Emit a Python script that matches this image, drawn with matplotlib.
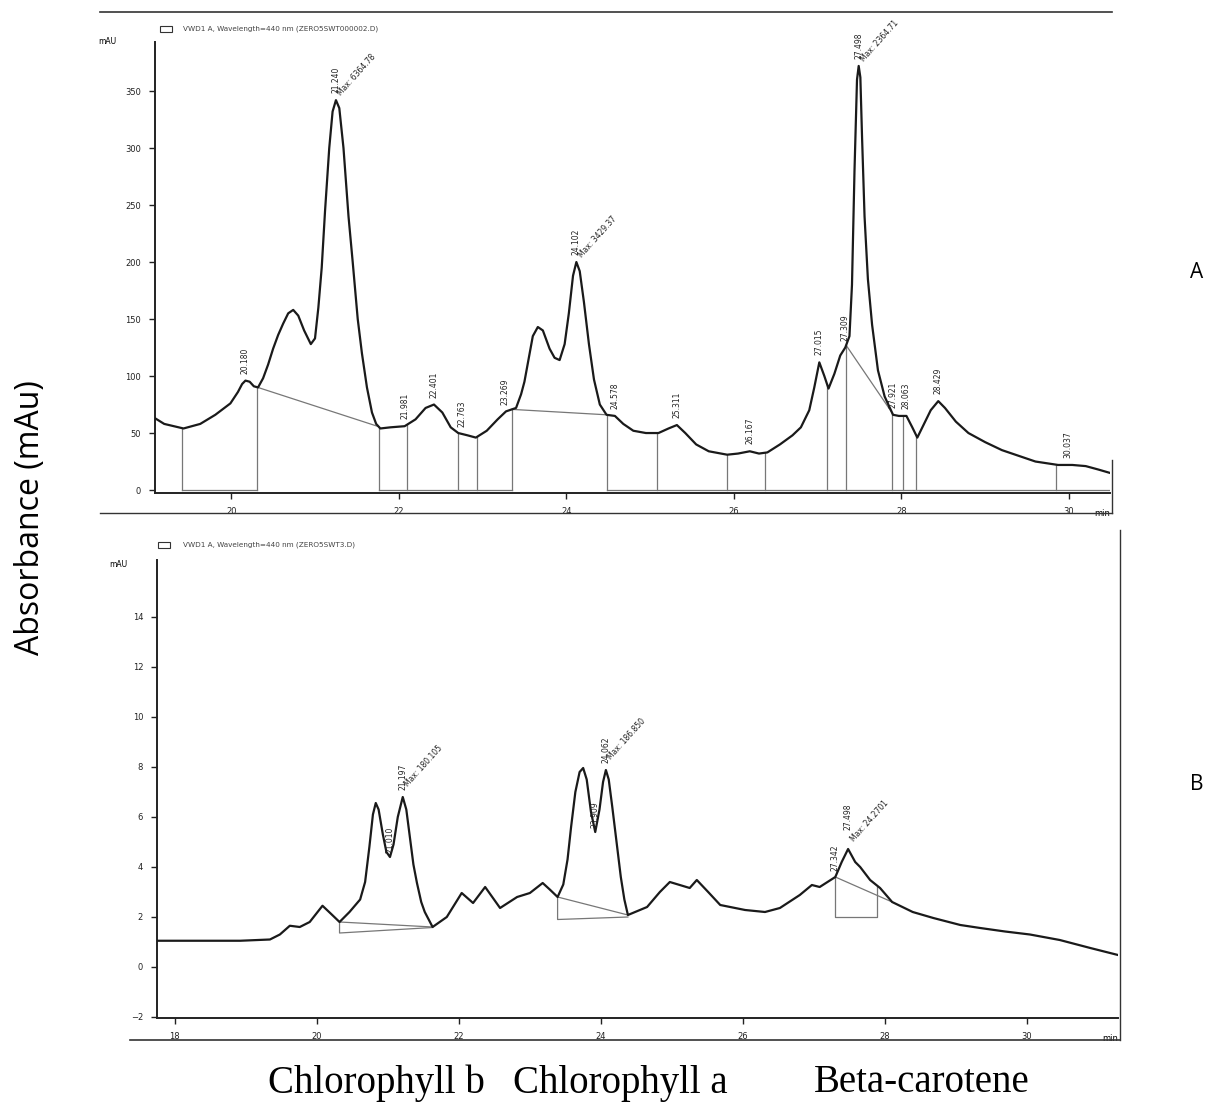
import numpy as np
import matplotlib
matplotlib.use("Agg")
import matplotlib.pyplot as plt

# ---- top chromatogram (sample A), time in min / signal in mAU
t_a = [19.09, 19.20, 19.43, 19.63, 19.81, 19.99, 20.08, 20.13, 20.17, 20.22,
       20.27, 20.32, 20.38, 20.44, 20.50, 20.56, 20.62, 20.68, 20.74, 20.80,
       20.87, 20.95, 21.00, 21.04, 21.08, 21.12, 21.17, 21.21, 21.25, 21.29,
       21.34, 21.40, 21.45, 21.51, 21.56, 21.62, 21.68, 21.73, 21.78, 21.90,
       22.07, 22.20, 22.32, 22.42, 22.52, 22.62, 22.71, 22.82, 22.92, 23.05,
       23.18, 23.28, 23.40, 23.46, 23.50, 23.55, 23.60, 23.66, 23.72, 23.80,
       23.86, 23.92, 23.98, 24.03, 24.08, 24.12, 24.16, 24.21, 24.27, 24.33,
       24.40, 24.48, 24.58, 24.68, 24.80, 24.95, 25.10, 25.22, 25.32, 25.42,
       25.55, 25.70, 25.92, 26.05, 26.19, 26.30, 26.40, 26.55, 26.70, 26.80,
       26.90, 26.96, 27.02, 27.08, 27.13, 27.20, 27.27, 27.33, 27.38, 27.41,
       27.44, 27.47, 27.49, 27.51, 27.53, 27.56, 27.60, 27.65, 27.72, 27.80,
       27.90, 27.97, 28.06, 28.13, 28.19, 28.25, 28.35, 28.44, 28.52, 28.65,
       28.80, 29.00, 29.20, 29.40, 29.60, 29.87, 30.04, 30.20, 30.35, 30.49]
y_a = [63, 58, 54, 58, 66, 76, 86, 93, 96, 95,
       91, 90, 98, 110, 124, 136, 146, 155, 158, 153,
       140, 128, 133, 160, 195, 245, 300, 332, 342, 335,
       300, 240, 200, 150, 120, 90, 68, 58, 54, 55,
       56, 62, 72, 75, 68, 55, 50, 48, 46, 52,
       62, 69, 72, 84, 95, 115, 135, 143, 140, 124,
       116, 114, 128, 155, 188, 200, 192, 165, 128, 97,
       75, 66, 65, 58, 52, 50, 50, 54, 57, 50,
       40, 34, 31, 32, 34, 32, 33, 40, 48, 55,
       70, 90, 112, 100, 89, 102, 118, 125, 135, 180,
       280, 360, 372, 362, 310, 240, 185, 145, 105, 82,
       66, 65, 65, 55, 46, 55, 70, 78, 72, 60,
       50, 42, 35, 30, 25, 22, 22, 21, 18, 15]

drops_a = [19.41, 20.31, 21.76, 22.10, 22.71, 22.93, 23.35, 24.48, 25.08,
           25.92, 26.37, 27.11, 27.34, 27.89, 28.02, 28.18, 29.84]
base0_a = [(19.41, 20.31), (21.76, 23.35), (24.48, 30.49)]
slope_a = [(20.31, 21.76), (23.35, 24.48), (27.34, 27.89)]

lab_a = ["20.180", "21.240", "21.981", "22.401", "22.763", "23.269", "24.102",
         "24.578", "25.311", "26.167", "27.015", "27.309", "27.498", "27.921",
         "28.063", "28.429", "30.037"]
lab_a_t = [20.17, 21.25, 22.07, 22.42, 22.76, 23.27, 24.12, 24.58, 25.32,
           26.19, 27.02, 27.33, 27.49, 27.90, 28.06, 28.44, 29.99]
max_a = {"21.240": "Max: 6364.78", "24.102": "Max: 3429.37", "27.498": "Max: 2364.71"}

# ---- bottom chromatogram (sample B)
t_b = [17.75, 18.35, 18.92, 19.34, 19.48, 19.62, 19.76, 19.90, 20.08, 20.21,
       20.32, 20.46, 20.61, 20.68, 20.74, 20.79, 20.83, 20.87, 20.93, 20.98,
       21.03, 21.08, 21.14, 21.21, 21.26, 21.31, 21.36, 21.41, 21.47, 21.52,
       21.63, 21.83, 22.04, 22.20, 22.37, 22.58, 22.82, 23.00, 23.18, 23.28,
       23.39, 23.47, 23.53, 23.58, 23.64, 23.70, 23.75, 23.80, 23.86, 23.92,
       23.98, 24.03, 24.07, 24.11, 24.16, 24.22, 24.28, 24.33, 24.38, 24.65,
       24.83, 24.97, 25.11, 25.25, 25.35, 25.51, 25.68, 26.03, 26.31, 26.52,
       26.80, 26.97, 27.08, 27.30, 27.39, 27.48, 27.58, 27.65, 27.79, 27.93,
       28.10, 28.39, 28.68, 29.06, 29.34, 29.69, 30.04, 30.46, 30.89, 31.28]
y_b = [1.05, 1.05, 1.05, 1.10, 1.30, 1.65, 1.60, 1.80, 2.45, 2.10,
       1.80, 2.20, 2.70, 3.40, 4.80, 6.10, 6.56, 6.30, 5.30, 4.60,
       4.40, 4.90, 6.00, 6.80, 6.30, 5.20, 4.10, 3.36, 2.60, 2.20,
       1.60, 2.00, 2.96, 2.56, 3.20, 2.36, 2.80, 2.96, 3.36, 3.10,
       2.80, 3.30, 4.30, 5.60, 7.00, 7.80, 7.96, 7.50, 6.20, 5.40,
       6.30, 7.40, 7.88, 7.50, 6.40, 5.00, 3.60, 2.70, 2.08, 2.40,
       3.00, 3.40, 3.28, 3.16, 3.48, 3.00, 2.48, 2.28, 2.20, 2.36,
       2.88, 3.28, 3.20, 3.60, 4.20, 4.72, 4.20, 4.00, 3.48, 3.16,
       2.60, 2.20, 1.96, 1.68, 1.56, 1.42, 1.30, 1.08, 0.76, 0.48]

peaks_b = ["Chlorophyll b", "Chlorophyll a", "Beta-carotene"]

W, H = 1218, 1113
fig = plt.figure(figsize=(W / 100, H / 100), dpi=100)


def fx(px):
    return px / W


def fy(py):
    return 1 - py / H


def style_axis(ax):
    for s in ["top", "right"]:
        ax.spines[s].set_visible(False)
    for s in ["left", "bottom"]:
        ax.spines[s].set_linewidth(1.4)
        ax.spines[s].set_color("#222222")
    ax.tick_params(direction="out", length=4, width=1, labelsize=6, colors="#222222", pad=6)


ax1 = fig.add_axes([fx(155), fy(493), fx(1110 - 155), (493 - 42) / H])
ax1.plot(t_a, y_a, color="#1a1a1a", lw=1.6, zorder=3)

for d in drops_a:
    ax1.plot([d, d], [0, np.interp(d, t_a, y_a)], color="#777777", lw=0.9, zorder=2)
for a, b in base0_a:
    ax1.plot([a, b], [0, 0], color="#777777", lw=0.9, zorder=2)
for a, b in slope_a:
    ax1.plot([a, b], [np.interp(a, t_a, y_a), np.interp(b, t_a, y_a)], color="#777777", lw=0.9, zorder=2)

for lab, t in zip(lab_a, lab_a_t):
    v = np.interp(t, t_a, y_a)
    ax1.annotate(lab, (t, v), xytext=(0, 5), textcoords="offset points", rotation=90,
                 ha="center", va="bottom", fontsize=5.5, color="#222222")
    if lab in max_a:
        ax1.annotate(max_a[lab], (t, v), xytext=(5, 2), textcoords="offset points", rotation=48,
                     ha="left", va="bottom", fontsize=5.5, color="#222222", rotation_mode="anchor")

ax1.set_xlim(19.09, 30.49)
ax1.set_ylim(-2.6, 393)
ax1.set_xticks([20, 22, 24, 26, 28, 30])
ax1.set_yticks([0, 50, 100, 150, 200, 250, 300, 350])
style_axis(ax1)
ax1.text(-0.05, 1.0, "mAU", transform=ax1.transAxes, fontsize=5.5, ha="center", va="center")
ax1.text(1.0, -0.045, "min", transform=ax1.transAxes, fontsize=6, ha="right", va="center")

ax2 = fig.add_axes([fx(157), fy(1018), fx(1118 - 157), (1018 - 560) / H])
ax2.plot(t_b, y_b, color="#1a1a1a", lw=1.6, zorder=3)

# integration baselines
ax2.plot([20.32, 21.63], [1.8, 1.6], color="#777777", lw=0.9)
ax2.plot([20.32, 20.32, 21.63], [1.8, 1.36, 1.58], color="#777777", lw=0.9)
ax2.plot([23.39, 24.38], [2.8, 2.08], color="#777777", lw=0.9)
ax2.plot([23.39, 23.39, 24.38], [2.8, 1.9, 2.0], color="#777777", lw=0.9)
ax2.plot([27.30, 28.10], [3.6, 2.6], color="#777777", lw=0.9)
ax2.plot([27.30, 27.30, 27.89, 27.89], [3.6, 2.0, 2.0, 3.2], color="#777777", lw=0.9)

ax2.annotate("21.197", (21.21, 6.8), xytext=(0, 5), textcoords="offset points", rotation=90,
             ha="center", va="bottom", fontsize=5.5, color="#222222")
ax2.annotate("24.062", (24.07, 7.88), xytext=(0, 5), textcoords="offset points", rotation=90,
             ha="center", va="bottom", fontsize=5.5, color="#222222")
ax2.annotate("Max: 180.105", (21.21, 6.8), xytext=(5, 6), textcoords="offset points", rotation=48,
             ha="left", va="bottom", fontsize=5.5, rotation_mode="anchor", color="#222222")
ax2.annotate("Max: 186.850", (24.07, 7.88), xytext=(5, 6), textcoords="offset points", rotation=48,
             ha="left", va="bottom", fontsize=5.5, rotation_mode="anchor", color="#222222")
ax2.annotate("21.010", (21.03, 4.4), xytext=(0, 3), textcoords="offset points", rotation=90,
             ha="center", va="bottom", fontsize=5.5, color="#222222")
ax2.annotate("23.909", (23.92, 5.4), xytext=(0, 3), textcoords="offset points", rotation=90,
             ha="center", va="bottom", fontsize=5.5, color="#222222")
ax2.annotate("27.342", (27.30, 3.6), xytext=(0, 4), textcoords="offset points", rotation=90,
             ha="center", va="bottom", fontsize=5.5, color="#222222")
ax2.annotate("27.498", (27.48, 4.72), xytext=(0, 14), textcoords="offset points", rotation=90,
             ha="center", va="bottom", fontsize=5.5, color="#222222")
ax2.annotate("Max: 24.2701", (27.48, 4.72), xytext=(5, 4), textcoords="offset points", rotation=48,
             ha="left", va="bottom", fontsize=5.5, rotation_mode="anchor", color="#222222")

ax2.set_xlim(17.75, 31.28)
ax2.set_ylim(-2.04, 16.28)
ax2.set_xticks([18, 20, 22, 24, 26, 28, 30])
ax2.set_yticks([-2, 0, 2, 4, 6, 8, 10, 12, 14])
style_axis(ax2)
ax2.text(-0.04, 0.99, "mAU", transform=ax2.transAxes, fontsize=5.5, ha="center", va="center")
ax2.text(1.0, -0.045, "min", transform=ax2.transAxes, fontsize=6, ha="right", va="center")

# legend headers
fig.patches.append(plt.Rectangle((fx(160), fy(32)), 12 / W, 6 / H, fill=False, lw=0.8,
                                 ec="#333333", transform=fig.transFigure))
fig.text(fx(183), fy(29), "VWD1 A, Wavelength=440 nm (ZERO5SWT000002.D)", fontsize=5.2,
         color="#444444", va="center")
fig.patches.append(plt.Rectangle((fx(158), fy(548)), 12 / W, 6 / H, fill=False, lw=0.8,
                                 ec="#333333", transform=fig.transFigure))
fig.text(fx(183), fy(545), "VWD1 A, Wavelength=440 nm (ZERO5SWT3.D)", fontsize=5.2,
         color="#444444", va="center")

# panel frame lines
fig.add_artist(plt.Line2D([fx(100), fx(1112)], [fy(12), fy(12)], color="#333333", lw=1.2))
fig.add_artist(plt.Line2D([fx(100), fx(1112)], [fy(513), fy(513)], color="#333333", lw=1.0))
fig.add_artist(plt.Line2D([fx(1112), fx(1112)], [fy(460), fy(513)], color="#333333", lw=1.0))
fig.add_artist(plt.Line2D([fx(130), fx(1120)], [fy(1040), fy(1040)], color="#333333", lw=1.2))
fig.add_artist(plt.Line2D([fx(1120), fx(1120)], [fy(530), fy(1040)], color="#333333", lw=1.0))

fig.text(fx(31), fy(518), "Absorbance (mAu)", rotation=90, fontsize=23, family="Open Sans",
         ha="center", va="center")
fig.text(fx(1197), fy(272), "A", fontsize=15, family="Open Sans", ha="center", va="center")
fig.text(fx(1197), fy(785), "B", fontsize=15, family="Open Sans", ha="center", va="center")

for name, cx in zip(peaks_b, [376, 620, 922]):
    fig.text(fx(cx), fy(1083), name, fontsize=28, family="Liberation Serif",
             ha="center", va="center")

fig.savefig("out.png", dpi=100, facecolor="white")
